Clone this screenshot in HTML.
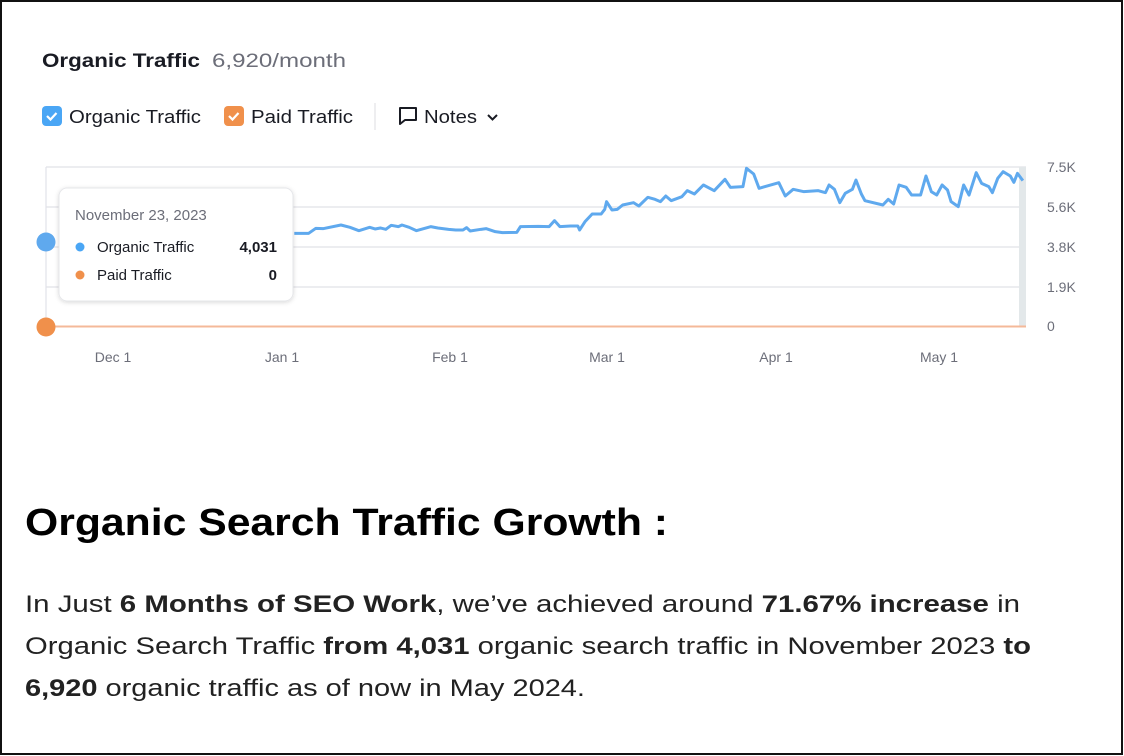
<!DOCTYPE html>
<html><head><meta charset="utf-8"><style>
html,body{margin:0;padding:0;background:#fff}
svg{display:block}
</style></head><body>
<svg width="1124" height="756" viewBox="0 0 1124 756" xmlns="http://www.w3.org/2000/svg" font-family="Liberation Sans, sans-serif">
<rect x="1" y="1" width="1121" height="753" fill="#fff" stroke="#111" stroke-width="2"/>
<text x="42" y="67" font-size="19" font-weight="bold" fill="#191b23" textLength="158" lengthAdjust="spacingAndGlyphs">Organic Traffic</text>
<text x="212" y="67" font-size="19" fill="#6c6e79" textLength="134" lengthAdjust="spacingAndGlyphs">6,920/month</text>
<rect x="42" y="106" width="20" height="20" rx="4" fill="#4aa6f5"/>
<path d="M47 116 l3.5 3.5 l6 -6.5" stroke="#fff" stroke-width="2.2" fill="none"/>
<text x="69" y="123" font-size="18" fill="#191b23" textLength="132" lengthAdjust="spacingAndGlyphs">Organic Traffic</text>
<rect x="224" y="106" width="20" height="20" rx="4" fill="#f0904b"/>
<path d="M229 116 l3.5 3.5 l6 -6.5" stroke="#fff" stroke-width="2.2" fill="none"/>
<text x="251" y="123" font-size="18" fill="#191b23" textLength="102" lengthAdjust="spacingAndGlyphs">Paid Traffic</text>
<line x1="375" y1="103" x2="375" y2="130" stroke="#dcdde2"/>
<path d="M400 108 h16 v12 h-11 l-5 4 z" fill="none" stroke="#191b23" stroke-width="2" stroke-linejoin="round"/>
<text x="424" y="123" font-size="18" fill="#191b23" textLength="53" lengthAdjust="spacingAndGlyphs">Notes</text>
<path d="M488 115 l4.5 4.5 l4.5 -4.5" fill="none" stroke="#191b23" stroke-width="2"/>
<g stroke="#e1e2e8" stroke-width="1.2">
<line x1="46" y1="167" x2="1026" y2="167"/><line x1="46" y1="207" x2="1026" y2="207"/>
<line x1="46" y1="247" x2="1026" y2="247"/><line x1="46" y1="287" x2="1026" y2="287"/>
<line x1="46" y1="167" x2="46" y2="327"/>
</g>
<rect x="1019" y="167" width="7" height="159" fill="#e3e8ea"/>
<line x1="46" y1="326.5" x2="1026" y2="326.5" stroke="#f4b999" stroke-width="2"/>
<g transform="translate(0,150) scale(0.3589,0.3333)">
<polyline vector-effect="non-scaling-stroke" fill="none" stroke="#5fa9ee" stroke-width="3" stroke-linejoin="round" points="820,250 860,250 880,235 900,236 950,225 975,232 1000,242 1030,232 1045,237 1060,234 1075,238 1090,226 1110,230 1120,225 1140,232 1160,242 1200,230 1220,234 1250,238 1270,240 1290,240 1300,233 1310,243 1340,238 1355,236 1380,245 1400,248 1440,247 1450,230 1500,229 1530,230 1545,212 1560,230 1590,228 1610,228 1615,240 1630,215 1650,192 1675,192 1685,178 1690,155 1705,180 1720,178 1735,165 1765,158 1780,168 1805,142 1825,148 1840,155 1855,138 1870,152 1900,140 1915,122 1935,132 1960,105 1990,122 2020,88 2035,112 2070,110 2080,55 2100,72 2115,115 2170,98 2188,138 2210,118 2240,125 2280,122 2300,128 2310,105 2325,118 2340,158 2355,130 2375,118 2385,90 2400,132 2410,152 2460,165 2475,148 2490,162 2505,105 2525,112 2540,135 2565,135 2580,78 2595,125 2610,135 2625,105 2640,120 2650,155 2670,170 2685,105 2700,135 2720,68 2735,100 2755,110 2765,128 2780,85 2795,65 2815,78 2825,97 2835,70 2850,92"/>
</g>
<g font-size="14" fill="#6c6e79">
<text x="1047" y="172">7.5K</text><text x="1047" y="212">5.6K</text><text x="1047" y="252">3.8K</text><text x="1047" y="292">1.9K</text><text x="1047" y="331">0</text>
<g text-anchor="middle"><text x="113" y="362">Dec 1</text><text x="282" y="362">Jan 1</text><text x="450" y="362">Feb 1</text><text x="607" y="362">Mar 1</text><text x="776" y="362">Apr 1</text><text x="939" y="362">May 1</text></g>
</g>
<defs><filter id="sh" x="-10%" y="-10%" width="120%" height="130%"><feDropShadow dx="0" dy="1" stdDeviation="2" flood-color="#000" flood-opacity="0.15"/></filter></defs>
<rect x="59" y="188" width="234" height="113" rx="8" fill="#fff" stroke="#e6e7ea" filter="url(#sh)"/>
<text x="75" y="220" font-size="15" fill="#6c6e79">November 23, 2023</text>
<circle cx="80" cy="247" r="4.5" fill="#4aa6f5"/>
<text x="97" y="252" font-size="15" fill="#191b23">Organic Traffic</text>
<text x="277" y="252" font-size="15" font-weight="bold" fill="#191b23" text-anchor="end">4,031</text>
<circle cx="80" cy="275" r="4.5" fill="#f0904b"/>
<text x="97" y="280" font-size="15" fill="#191b23">Paid Traffic</text>
<text x="277" y="280" font-size="15" font-weight="bold" fill="#191b23" text-anchor="end">0</text>
<circle cx="46" cy="242" r="9.5" fill="#5fa9ee"/>
<circle cx="46" cy="327" r="9.5" fill="#f0904b"/>
<text x="25" y="535" font-size="38" font-weight="bold" fill="#000" textLength="643" lengthAdjust="spacingAndGlyphs">Organic Search Traffic Growth :</text>
<g font-size="24" fill="#222">
<text x="25" y="612" textLength="995" lengthAdjust="spacingAndGlyphs">In Just <tspan font-weight="bold">6 Months of SEO Work</tspan>, we’ve achieved around <tspan font-weight="bold">71.67% increase</tspan> in</text>
<text x="25" y="654" textLength="1006" lengthAdjust="spacingAndGlyphs">Organic Search Traffic <tspan font-weight="bold">from 4,031</tspan> organic search traffic in November 2023 <tspan font-weight="bold">to</tspan></text>
<text x="25" y="696" textLength="560" lengthAdjust="spacingAndGlyphs"><tspan font-weight="bold">6,920</tspan> organic traffic as of now in May 2024.</text>
</g>
</svg>
</body></html>
